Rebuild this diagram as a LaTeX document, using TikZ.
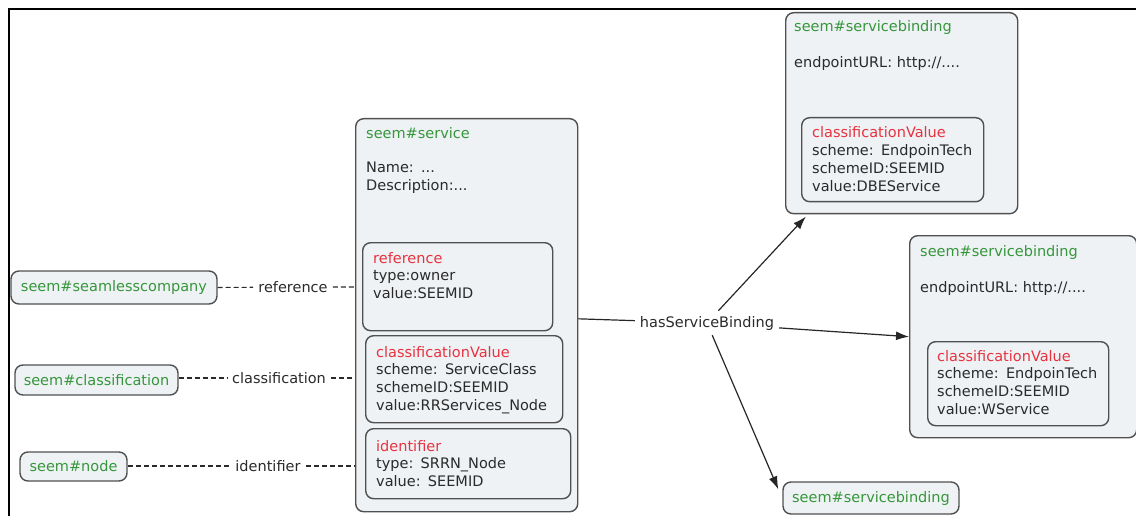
\documentclass[tikz,border=0pt]{standalone}
\usepackage{fontspec}
\usetikzlibrary{arrows.meta}
\newfontfamily\dv{DejaVu Sans}
\definecolor{ink}{HTML}{2A2A2A}
\definecolor{titlegreen}{HTML}{36963A}
\definecolor{keyred}{HTML}{E8323F}
\definecolor{panel}{HTML}{EEF2F5}
\definecolor{edge}{HTML}{505050}
\tikzset{
  panelbox/.style={draw=edge, fill=panel, line width=1.4pt, rounded corners=8pt,
                   anchor=north west, inner sep=0pt},
  lines/.style={anchor=base west, inner sep=0pt, align=left, text width=210pt, text=ink},
  title/.style={lines, text=titlegreen},
  tag/.style={draw=edge, fill=panel, line width=1.4pt, rounded corners=8pt,
              text=titlegreen, inner sep=0pt},
  linklabel/.style={text=ink, inner sep=5pt},
  assoc/.style={draw=ink, line width=1.1pt, dash pattern=on 5pt off 3pt},
  link/.style={draw=black!85, line width=1.2pt},
  arrowlink/.style={link, -{Latex[length=13pt,width=9pt]}},
}
\begin{document}
\begin{tikzpicture}[x=1pt, y=-1pt, font=\dv\fontsize{14.5}{17.8}\selectfont]
\useasboundingbox (0,0) rectangle (1136,516);

% outer frame (top and left rules)
\draw[line width=2pt, black] (9,517) -- (9,9) -- (1137,9);

% ---- seem#service ----
\node[panelbox, minimum width=222pt, minimum height=393pt] (service) at (355,118) {};
\node[title] (serviceT) at (366,139) {seem\#service};
\node[lines] (serviceB) at (366,173) {Name: ...\\Description:...};

\node[panelbox, minimum width=190pt, minimum height=88pt] (refbox) at (362,242) {};
\node[lines] (refT) at (373,263) {\textcolor{keyred}{reference}\\type:owner\\value:SEEMID};

\node[panelbox, minimum width=197pt, minimum height=87pt] (clsbox) at (365,335) {};
\node[lines] (clsT) at (376,357) {\textcolor{keyred}{classificationValue}\\scheme: ServiceClass\\schemeID:SEEMID\\value:RRServices\_Node};

\node[panelbox, minimum width=205pt, minimum height=70pt] (idbox) at (365,428) {};
\node[lines] (idT) at (376,451) {\textcolor{keyred}{identifier}\\type: SRRN\_Node\\value: SEEMID};

% ---- service bindings ----
\node[panelbox, minimum width=232pt, minimum height=201pt] (sbA) at (785,12) {};
\node[title] (sbAT) at (794,32) {seem\#servicebinding};
\node[lines] (sbAB) at (794,68) {endpointURL: http://....};
\node[panelbox, minimum width=182pt, minimum height=84pt] (sbAcls) at (801,117) {};
\node[lines] (sbAclsT) at (812,138) {\textcolor{keyred}{classificationValue}\\scheme: EndpoinTech\\schemeID:SEEMID\\value:DBEService};

\node[panelbox, minimum width=227pt, minimum height=202pt] (sbB) at (909,235) {};
\node[title] (sbBT) at (920,256) {seem\#servicebinding};
\node[lines] (sbBB) at (920,292) {endpointURL: http://....};
\node[panelbox, minimum width=181pt, minimum height=84pt] (sbBcls) at (927,341) {};
\node[lines] (sbBclsT) at (937,361) {\textcolor{keyred}{classificationValue}\\scheme: EndpoinTech\\schemeID:SEEMID\\value:WService};

\node[tag, minimum width=176pt, minimum height=32pt] (sbC) at (871,498) {seem\#servicebinding};

% ---- related resources on the left ----
\node[tag, minimum width=206pt, minimum height=33pt] (company) at (114,287.5) {seem\#seamlesscompany};
\node[tag, minimum width=163pt, minimum height=30pt] (classif) at (96.5,380) {seem\#classification};
\node[tag, minimum width=107pt, minimum height=29pt] (snode) at (73.5,466.5) {seem\#node};

\node[linklabel] (lref) at (293,287) {reference};
\node[linklabel] (lcls) at (279,378) {classification};
\node[linklabel] (lid) at (268,466) {identifier};

\draw[assoc] (company.east) -- (lref) -- (lref -| service.west);
\draw[assoc] (classif.east |- lcls) -- (lcls) -- (lcls -| service.west);
\draw[assoc] (snode.east |- lid) -- (lid) -- (lid -| service.west);

% ---- hasServiceBinding ----
\node[linklabel] (hsb) at (707,323) {hasServiceBinding};
\draw[link] (service) -- (hsb);
\draw[arrowlink, shorten >=3pt] (hsb) -- (sbA);
\draw[arrowlink] (hsb) -- (sbB.west);
\draw[arrowlink] (hsb) -- ([shift={(-4,8)}]sbC.north west);
\end{tikzpicture}
\end{document}
